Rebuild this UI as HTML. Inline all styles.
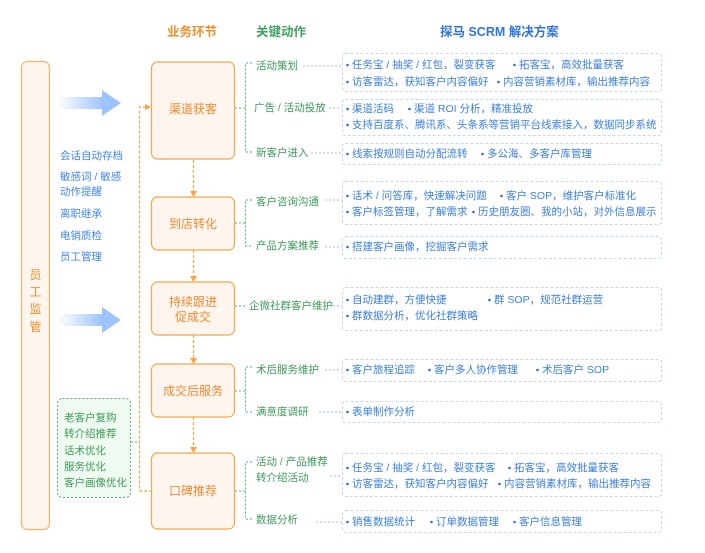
<!DOCTYPE html>
<html><head><meta charset="utf-8">
<style>
html,body{margin:0;padding:0;background:#fff;}
svg{display:block;}
text{font-family:"Liberation Sans","Noto Sans CJK SC",sans-serif;}
</style></head>
<body>
<svg width="705" height="553" viewBox="0 0 705 553" xmlns="http://www.w3.org/2000/svg">
<defs>
<linearGradient id="bg1" x1="0" x2="1" y1="0" y2="0">
<stop offset="0" stop-color="#9dc3fb" stop-opacity="0"/>
<stop offset="1" stop-color="#9dc3fb" stop-opacity="1"/>
</linearGradient>
</defs>

<!-- headers -->
<g font-size="12.5" font-weight="bold" dominant-baseline="central">
<text x="167" y="32" fill="#f0902a" dominant-baseline="central">业务环节</text>
<text x="256" y="32" fill="#3f9f5f" dominant-baseline="central">关键动作</text>
<text x="440" y="32" fill="#2f74d9" dominant-baseline="central">探马 SCRM 解决方案</text>
</g>

<!-- left column -->
<rect x="21.5" y="61.5" width="28" height="468" rx="6" fill="#fff5ef" stroke="#f7b26a" stroke-width="1.2"/>
<g font-size="12" fill="#f0902a" text-anchor="middle">
<text x="35.5" y="275" dominant-baseline="central">员</text>
<text x="35.5" y="292" dominant-baseline="central">工</text>
<text x="35.5" y="309" dominant-baseline="central">监</text>
<text x="35.5" y="327" dominant-baseline="central">管</text>
</g>

<!-- blue arrows -->
<rect x="58" y="97" width="45" height="12" fill="url(#bg1)"/>
<polygon points="102,90 121,103 102,116" fill="#9dc3fb"/>
<rect x="58" y="314" width="45" height="12" fill="url(#bg1)"/>
<polygon points="102,307 121,320 102,333" fill="#9dc3fb"/>

<!-- left list -->
<g font-size="10.5" fill="#3f86e8">
<text x="60" y="156" dominant-baseline="central">会话自动存档</text>
<text x="60" y="177" dominant-baseline="central">敏感词 / 敏感</text>
<text x="60" y="192" dominant-baseline="central">动作提醒</text>
<text x="60" y="214" dominant-baseline="central">离职继承</text>
<text x="60" y="236" dominant-baseline="central">电销质检</text>
<text x="60" y="257" dominant-baseline="central">员工管理</text>
</g>

<!-- green box -->
<rect x="57.5" y="398.5" width="73" height="99" rx="5" fill="#effbf1" stroke="#4aae68" stroke-width="1" stroke-dasharray="2,2"/>
<g font-size="10.5" fill="#3d9a5a">
<text x="64" y="418" dominant-baseline="central">老客户复购</text>
<text x="64" y="434" dominant-baseline="central">转介绍推荐</text>
<text x="64" y="451" dominant-baseline="central">话术优化</text>
<text x="64" y="467" dominant-baseline="central">服务优化</text>
<text x="64" y="483" dominant-baseline="central">客户画像优化</text>
</g>
<line x1="131" y1="442" x2="139" y2="442" stroke="#4aae68" stroke-width="1" stroke-dasharray="2,2"/>

<!-- orange loop -->
<g stroke="#f7a34c" stroke-width="1.2" fill="none" stroke-dasharray="3,2">
<polyline points="152,491 139.5,491 139.5,107 146,107"/>
<line x1="193.5" y1="160" x2="193.5" y2="192"/>
<line x1="193.5" y1="250" x2="193.5" y2="277"/>
<line x1="193.5" y1="335" x2="193.5" y2="359"/>
<line x1="193.5" y1="417" x2="193.5" y2="448"/>
</g>
<g fill="#f7a34c">
<polygon points="145,104 151,107 145,110"/>
<polygon points="190,191 197,191 193.5,197"/>
<polygon points="190,276 197,276 193.5,282"/>
<polygon points="190,358 197,358 193.5,364"/>
<polygon points="190,447 197,447 193.5,453"/>
</g>

<!-- stage boxes -->
<g fill="#fff5ef" stroke="#f7a64c" stroke-width="1.2">
<rect x="151.5" y="62" width="83" height="97" rx="6"/>
<rect x="151.5" y="197" width="83" height="53" rx="6"/>
<rect x="151.5" y="282" width="83" height="53" rx="6"/>
<rect x="151.5" y="364" width="83" height="53" rx="6"/>
<rect x="151.5" y="453" width="83" height="76" rx="6"/>
</g>
<g font-size="12" fill="#f08a30" text-anchor="middle">
<text x="193" y="109" dominant-baseline="central">渠道获客</text>
<text x="193" y="224" dominant-baseline="central">到店转化</text>
<text x="193" y="302" dominant-baseline="central">持续跟进</text>
<text x="193" y="317" dominant-baseline="central">促成交</text>
<text x="193" y="391" dominant-baseline="central">成交后服务</text>
<text x="193" y="491" dominant-baseline="central">口碑推荐</text>
</g>

<!-- green brackets -->
<g stroke="#4bb36a" stroke-width="1" fill="none" stroke-dasharray="2,2">
<line x1="235" y1="108" x2="245" y2="108"/>
<polyline points="252,63 245.5,63 245.5,152 252,152"/>
<line x1="235" y1="223" x2="245" y2="223"/>
<polyline points="252,200 245.5,200 245.5,246 252,246"/>
<line x1="235" y1="306" x2="247" y2="306"/>
<line x1="235" y1="391" x2="245" y2="391"/>
<polyline points="252,367 245.5,367 245.5,412 252,412"/>
<line x1="235" y1="491" x2="245" y2="491"/>
<polyline points="252,462 245.5,462 245.5,519 252,519"/>
</g>

<!-- action labels -->
<g font-size="10.5" fill="#3d9a5a">
<text x="256" y="66" dominant-baseline="central">活动策划</text>
<text x="254" y="108" dominant-baseline="central">广告 / 活动投放</text>
<text x="256" y="153" dominant-baseline="central">新客户进入</text>
<text x="256" y="202" dominant-baseline="central">客户咨询沟通</text>
<text x="256" y="246" dominant-baseline="central">产品方案推荐</text>
<text x="249" y="306" dominant-baseline="central">企微社群客户维护</text>
<text x="256" y="370" dominant-baseline="central">术后服务维护</text>
<text x="256" y="412" dominant-baseline="central">满意度调研</text>
<text x="256" y="462" dominant-baseline="central">活动 / 产品推荐</text>
<text x="256" y="478" dominant-baseline="central">转介绍活动</text>
<text x="256" y="520" dominant-baseline="central">数据分析</text>
</g>

<!-- blue connectors -->
<g stroke="#9dbcf0" stroke-width="1" stroke-dasharray="2,2">
<line x1="303" y1="66" x2="342" y2="66"/>
<line x1="329" y1="108" x2="342" y2="108"/>
<line x1="311" y1="153" x2="342" y2="153"/>
<line x1="325" y1="200" x2="342" y2="200"/>
<line x1="325" y1="247" x2="342" y2="247"/>
<line x1="333" y1="306" x2="342" y2="306"/>
<line x1="325" y1="370" x2="342" y2="370"/>
<line x1="319" y1="412" x2="342" y2="412"/>
<line x1="330" y1="476" x2="342" y2="476"/>
<line x1="316" y1="522" x2="342" y2="522"/>
</g>

<!-- solution boxes -->
<g fill="#fff" stroke="#c3d7f7" stroke-width="1" stroke-dasharray="3,2">
<rect x="342.5" y="53.5" width="319" height="38" rx="3"/>
<rect x="342.5" y="99.5" width="319" height="36" rx="3"/>
<rect x="342.5" y="143.5" width="319" height="21" rx="3"/>
<rect x="342.5" y="181.5" width="319" height="43" rx="3"/>
<rect x="342.5" y="236.5" width="319" height="22" rx="3"/>
<rect x="342.5" y="287.5" width="319" height="43" rx="3"/>
<rect x="342.5" y="359.5" width="319" height="22" rx="3"/>
<rect x="342.5" y="401.5" width="319" height="21" rx="3"/>
<rect x="342.5" y="453.5" width="319" height="43" rx="3"/>
<rect x="342.5" y="510.5" width="319" height="22" rx="3"/>
</g>

<!-- bullets -->
<g fill="#2f6fe0">
<circle cx="347.5" cy="65" r="1.3"/><circle cx="514.5" cy="65" r="1.3"/>
<circle cx="347.5" cy="82" r="1.3"/><circle cx="498.5" cy="82" r="1.3"/>
<circle cx="347.5" cy="109" r="1.3"/><circle cx="409.5" cy="109" r="1.3"/>
<circle cx="347.5" cy="125" r="1.3"/>
<circle cx="347.5" cy="154" r="1.3"/><circle cx="482.5" cy="154" r="1.3"/>
<circle cx="347.5" cy="196" r="1.3"/><circle cx="501.5" cy="196" r="1.3"/>
<circle cx="347.5" cy="212" r="1.3"/><circle cx="473.5" cy="212" r="1.3"/>
<circle cx="347.5" cy="247" r="1.3"/>
<circle cx="347.5" cy="300" r="1.3"/><circle cx="489.5" cy="300" r="1.3"/>
<circle cx="347.5" cy="316" r="1.3"/>
<circle cx="347.5" cy="370" r="1.3"/><circle cx="429.5" cy="370" r="1.3"/><circle cx="537.5" cy="370" r="1.3"/>
<circle cx="347.5" cy="412" r="1.3"/>
<circle cx="347.5" cy="468" r="1.3"/><circle cx="509.5" cy="468" r="1.3"/>
<circle cx="347.5" cy="484" r="1.3"/><circle cx="499.5" cy="484" r="1.3"/>
<circle cx="347.5" cy="522" r="1.3"/><circle cx="431.5" cy="522" r="1.3"/><circle cx="514.5" cy="522" r="1.3"/>
</g>

<!-- solution text -->
<g font-size="10.5" fill="#3a7fe0">
<text x="352" y="65" dominant-baseline="central">任务宝 / 抽奖 / 红包，裂变获客</text>
<text x="519" y="65" dominant-baseline="central">拓客宝，高效批量获客</text>
<text x="352" y="82" dominant-baseline="central">访客雷达，获知客户内容偏好</text>
<text x="503" y="82" dominant-baseline="central">内容营销素材库，输出推荐内容</text>
<text x="352" y="109" dominant-baseline="central">渠道活码</text>
<text x="414" y="109" dominant-baseline="central">渠道 ROI 分析，精准投放</text>
<text x="352" y="125" dominant-baseline="central">支持百度系、腾讯系、头条系等营销平台线索接入，数据同步系统</text>
<text x="352" y="154" dominant-baseline="central">线索按规则自动分配流转</text>
<text x="487" y="154" dominant-baseline="central">多公海、多客户库管理</text>
<text x="352" y="196" dominant-baseline="central">话术 / 问答库，快速解决问题</text>
<text x="506" y="196" dominant-baseline="central">客户 SOP，维护客户标准化</text>
<text x="352" y="212" dominant-baseline="central">客户标签管理，了解需求</text>
<text x="478" y="212" dominant-baseline="central">历史朋友圈、我的小站，对外信息展示</text>
<text x="352" y="247" dominant-baseline="central">搭建客户画像，挖掘客户需求</text>
<text x="352" y="300" dominant-baseline="central">自动建群，方便快捷</text>
<text x="494" y="300" dominant-baseline="central">群 SOP，规范社群运营</text>
<text x="352" y="316" dominant-baseline="central">群数据分析，优化社群策略</text>
<text x="352" y="370" dominant-baseline="central">客户旅程追踪</text>
<text x="434" y="370" dominant-baseline="central">客户多人协作管理</text>
<text x="542" y="370" dominant-baseline="central">术后客户 SOP</text>
<text x="352" y="412" dominant-baseline="central">表单制作分析</text>
<text x="352" y="468" dominant-baseline="central">任务宝 / 抽奖 / 红包，裂变获客</text>
<text x="514" y="468" dominant-baseline="central">拓客宝，高效批量获客</text>
<text x="352" y="484" dominant-baseline="central">访客雷达，获知客户内容偏好</text>
<text x="504" y="484" dominant-baseline="central">内容营销素材库，输出推荐内容</text>
<text x="352" y="522" dominant-baseline="central">销售数据统计</text>
<text x="436" y="522" dominant-baseline="central">订单数据管理</text>
<text x="519" y="522" dominant-baseline="central">客户信息管理</text>
</g>
</svg>
</body></html>
